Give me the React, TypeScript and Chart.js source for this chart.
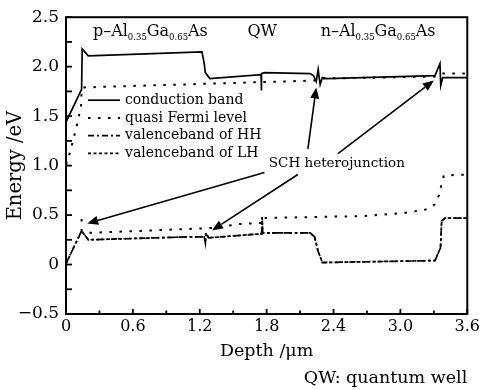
import React, { useEffect, useRef } from 'react';
import { Chart, registerables } from 'chart.js';

Chart.register(...registerables);

const FONT = '"DejaVu Serif", "Liberation Serif", serif';

// Conduction band
const cbDepth = [0, 0.14, 0.145, 0.2, 1.22, 1.24, 1.25, 1.29, 1.75, 1.75, 1.757, 1.78, 2.19, 2.22, 2.245, 2.262, 2.28, 2.3, 2.34, 3.31, 3.355, 3.362, 3.38, 3.6];
const cbEnergy = [1.44, 1.77, 2.18, 2.11, 2.15, 2.03, 1.94, 1.88, 1.92, 1.76, 1.93, 1.94, 1.93, 1.91, 1.85, 1.97, 1.82, 1.89, 1.88, 1.91, 2.03, 1.81, 1.89, 1.89];

// Quasi Fermi level (electrons)
const fnDepth = [0, 0.02, 0.09, 0.135, 0.14, 0.15, 2.24, 2.3, 3.31, 3.37, 3.6];
const fnEnergy = [1.01, 1.07, 1.37, 1.6, 1.76, 1.79, 1.86, 1.88, 1.9, 1.93, 1.93];

// Quasi Fermi level (holes)
const fpDepth = [0.14, 0.14, 0.2, 1.11, 1.32, 1.56, 1.755, 1.76, 2.67, 3.03, 3.25, 3.31, 3.35, 3.365, 3.39, 3.6];
const fpEnergy = [0.46, 0.34, 0.32, 0.36, 0.37, 0.41, 0.42, 0.47, 0.49, 0.52, 0.56, 0.61, 0.71, 0.79, 0.9, 0.91];

// Valence band of heavy holes
const hhDepth = [0, 0.14, 0.2, 1.11, 1.24, 1.25, 1.255, 1.28, 1.74, 1.755, 1.76, 1.765, 2.19, 2.23, 2.26, 2.3, 3.31, 3.36, 3.37, 3.4, 3.6];
const hhEnergy = [0.01, 0.34, 0.25, 0.28, 0.28, 0.22, 0.32, 0.27, 0.31, 0.31, 0.48, 0.32, 0.32, 0.28, 0.14, 0.02, 0.04, 0.17, 0.44, 0.47, 0.47];

// Valence band of light holes
const lhDepth = [0, 0.14, 0.2, 1.11, 1.24, 1.25, 1.255, 1.28, 1.74, 1.755, 1.76, 1.765, 2.19, 2.23, 2.26, 2.3, 3.31, 3.36, 3.37, 3.4, 3.6];
const lhEnergy = [0.01, 0.34, 0.25, 0.28, 0.28, 0.22, 0.32, 0.27, 0.31, 0.31, 0.48, 0.32, 0.32, 0.28, 0.14, 0.02, 0.04, 0.17, 0.44, 0.47, 0.47];

const seriesNames = ['conduction band', 'quasi Fermi level', 'valenceband of HH', 'valenceband of LH'];

const xTickValues = [0, 0.3, 0.6, 0.9, 1.2, 1.5, 1.8, 2.1, 2.4, 2.7, 3.0, 3.3, 3.6];
const xTickLabels = ['0', '', '0.6', '', '1.2', '', '1.8', '', '2.4', '', '3.0', '', '3.6'];
const yTickValues = [-0.5, -0.25, 0, 0.25, 0.5, 0.75, 1.0, 1.25, 1.5, 1.75, 2.0, 2.25, 2.5];
const yTickLabels = ['\u22120.5', '', '0', '', '0.5', '', '1.0', '', '1.5', '', '2.0', '', '2.5'];

const xTitle = 'Depth /\u03bcm';
const yTitle = 'Energy /eV';
const noteText = 'QW: quantum well';
const arrowText = 'SCH heterojunction';

// region labels: [text, isSubscript]
const pRegion: [string, boolean][] = [['p\u2013Al', false], ['0.35', true], ['Ga', false], ['0.65', true], ['As', false]];
const qwRegion: [string, boolean][] = [['QW', false]];
const nRegion: [string, boolean][] = [['n\u2013Al', false], ['0.35', true], ['Ga', false], ['0.65', true], ['As', false]];
const regionCenters = [0.757, 1.76, 2.8];
const regionBaseline = 2.31;

// arrows in data coordinates
const arrowTails = [[1.78, 0.93], [2.08, 0.91], [2.17, 1.17], [2.44, 1.12]];
const arrowTips = [[0.19, 0.415], [1.31, 0.345], [2.245, 1.79], [3.3, 1.86]];
const arrowTextPos = [1.82, 1.02];

const toPts = (xs: number[], ys: number[]) => xs.map((x, i) => ({ x, y: ys[i] }));

const styles = [
  { dash: [] as number[], width: 1.7 },
  { dash: [2.5, 7.5], width: 2 },
  { dash: [6, 3, 2, 3], width: 1.7 },
  { dash: [3, 2.5], width: 1.7 },
];

const overlay = {
  id: 'overlay',
  afterDatasetsDraw(chart: any) {
    const { ctx, chartArea: a, scales } = chart;
    const xs = scales.x;
    const ys = scales.y;
    ctx.save();
    ctx.strokeStyle = '#000';
    ctx.fillStyle = '#000';
    ctx.setLineDash([]);
    // frame
    ctx.lineWidth = 2;
    ctx.strokeRect(a.left, a.top, a.right - a.left, a.bottom - a.top);
    // inward ticks
    ctx.lineWidth = 1.8;
    xTickValues.forEach((v, i) => {
      const px = xs.getPixelForValue(v);
      const len = xTickLabels[i] ? 5 : 3.5;
      ctx.beginPath();
      ctx.moveTo(px, a.bottom);
      ctx.lineTo(px, a.bottom - len);
      ctx.stroke();
    });
    yTickValues.forEach((v) => {
      const py = ys.getPixelForValue(v);
      ctx.beginPath();
      ctx.moveTo(a.left, py);
      ctx.lineTo(a.left + 6, py);
      ctx.stroke();
    });

    // legend
    ctx.textBaseline = 'middle';
    ctx.textAlign = 'left';
    ctx.font = `14px ${FONT}`;
    seriesNames.forEach((name, i) => {
      const yy = a.top + 83 + i * 17.7;
      ctx.save();
      ctx.lineWidth = styles[i].width;
      ctx.setLineDash(styles[i].dash);
      ctx.beginPath();
      ctx.moveTo(a.left + 22, yy);
      ctx.lineTo(a.left + 54, yy);
      ctx.stroke();
      ctx.restore();
      ctx.fillText(name, a.left + 59, yy);
    });

    // region labels
    const drawRich = (parts: [string, boolean][], cx: number, baseY: number) => {
      const mainFont = `16px ${FONT}`;
      const subFont = `8.5px ${FONT}`;
      let total = 0;
      parts.forEach(([t, sub]) => {
        ctx.font = sub ? subFont : mainFont;
        total += ctx.measureText(t).width;
      });
      let x = cx - total / 2;
      ctx.textAlign = 'left';
      ctx.textBaseline = 'alphabetic';
      parts.forEach(([t, sub]) => {
        ctx.font = sub ? subFont : mainFont;
        ctx.fillText(t, x, sub ? baseY + 4 : baseY);
        x += ctx.measureText(t).width;
      });
    };
    const by = ys.getPixelForValue(regionBaseline);
    drawRich(pRegion, xs.getPixelForValue(regionCenters[0]), by);
    drawRich(qwRegion, xs.getPixelForValue(regionCenters[1]), by);
    drawRich(nRegion, xs.getPixelForValue(regionCenters[2]), by);

    // arrows
    ctx.lineWidth = 1.6;
    arrowTails.forEach((t, i) => {
      const x0 = xs.getPixelForValue(t[0]);
      const y0 = ys.getPixelForValue(t[1]);
      const x1 = xs.getPixelForValue(arrowTips[i][0]);
      const y1 = ys.getPixelForValue(arrowTips[i][1]);
      const ang = Math.atan2(y1 - y0, x1 - x0);
      const hl = 11;
      const hw = 4.5;
      const bx = x1 - hl * Math.cos(ang);
      const byy = y1 - hl * Math.sin(ang);
      ctx.beginPath();
      ctx.moveTo(x0, y0);
      ctx.lineTo(bx, byy);
      ctx.stroke();
      ctx.beginPath();
      ctx.moveTo(x1, y1);
      ctx.lineTo(bx + hw * Math.sin(ang), byy - hw * Math.cos(ang));
      ctx.lineTo(bx - hw * Math.sin(ang), byy + hw * Math.cos(ang));
      ctx.closePath();
      ctx.fill();
    });
    ctx.font = `13.5px ${FONT}`;
    ctx.textAlign = 'left';
    ctx.textBaseline = 'middle';
    ctx.fillText(arrowText, xs.getPixelForValue(arrowTextPos[0]), ys.getPixelForValue(arrowTextPos[1]));

    // note
    ctx.font = `17.5px ${FONT}`;
    ctx.textAlign = 'right';
    ctx.textBaseline = 'middle';
    ctx.fillText(noteText, a.right, 378);
    ctx.restore();
  },
};

export default function App() {
  const ref = useRef<HTMLCanvasElement>(null);
  useEffect(() => {
    document.body.style.margin = '0';
    const data = [
      toPts(cbDepth, cbEnergy),
      toPts(fnDepth, fnEnergy),
      toPts(hhDepth, hhEnergy),
      toPts(lhDepth, lhEnergy),
      toPts(fpDepth, fpEnergy),
    ];
    const styleIdx = [0, 1, 2, 3, 1];
    const labels = [seriesNames[0], seriesNames[1], seriesNames[2], seriesNames[3], seriesNames[1]];
    const chart = new Chart(ref.current as HTMLCanvasElement, {
      type: 'line',
      data: {
        datasets: data.map((d, i) => ({
          label: labels[i],
          data: d,
          borderColor: '#000',
          backgroundColor: '#000',
          borderWidth: styles[styleIdx[i]].width,
          borderDash: styles[styleIdx[i]].dash,
          borderCapStyle: 'butt',
          pointRadius: 0,
          tension: 0,
          fill: false,
        })),
      },
      options: {
        animation: false,
        responsive: false,
        events: [],
        layout: { padding: { left: 0, right: 15, top: 14, bottom: 0 } },
        plugins: { legend: { display: false }, tooltip: { enabled: false } },
        scales: {
          x: {
            type: 'linear',
            min: 0,
            max: 3.6,
            afterBuildTicks: (s: any) => {
              s.ticks = xTickValues.map((v) => ({ value: v }));
            },
            afterFit: (s: any) => {
              s.height = 76;
            },
            ticks: {
              autoSkip: false,
              maxRotation: 0,
              padding: 3,
              color: '#000',
              font: { family: FONT, size: 16 },
              callback: (v: any) => xTickLabels[xTickValues.indexOf(v)] ?? '',
            },
            grid: { display: false, drawTicks: false },
            border: { display: false },
            title: {
              display: true,
              text: xTitle,
              color: '#000',
              font: { family: FONT, size: 17.5 },
              padding: { top: 0, bottom: 28 },
            },
          },
          y: {
            type: 'linear',
            min: -0.5,
            max: 2.5,
            afterBuildTicks: (s: any) => {
              s.ticks = yTickValues.map((v) => ({ value: v }));
            },
            afterFit: (s: any) => {
              s.width = 66;
            },
            ticks: {
              autoSkip: false,
              padding: 7,
              color: '#000',
              font: { family: FONT, size: 17 },
              callback: (v: any) => yTickLabels[yTickValues.indexOf(v)] ?? '',
            },
            grid: { display: false, drawTicks: false },
            border: { display: false },
            title: {
              display: true,
              text: yTitle,
              color: '#000',
              font: { family: FONT, size: 19.5 },
              padding: { top: 4, bottom: 0 },
            },
          },
        },
      },
      plugins: [overlay],
    } as any);
    return () => chart.destroy();
  }, []);
  return (
    <div style={{ width: 483, height: 390, position: 'relative', background: '#fff' }}>
      <canvas ref={ref} width={483} height={390} style={{ display: 'block', width: 483, height: 390 }} />
    </div>
  );
}
